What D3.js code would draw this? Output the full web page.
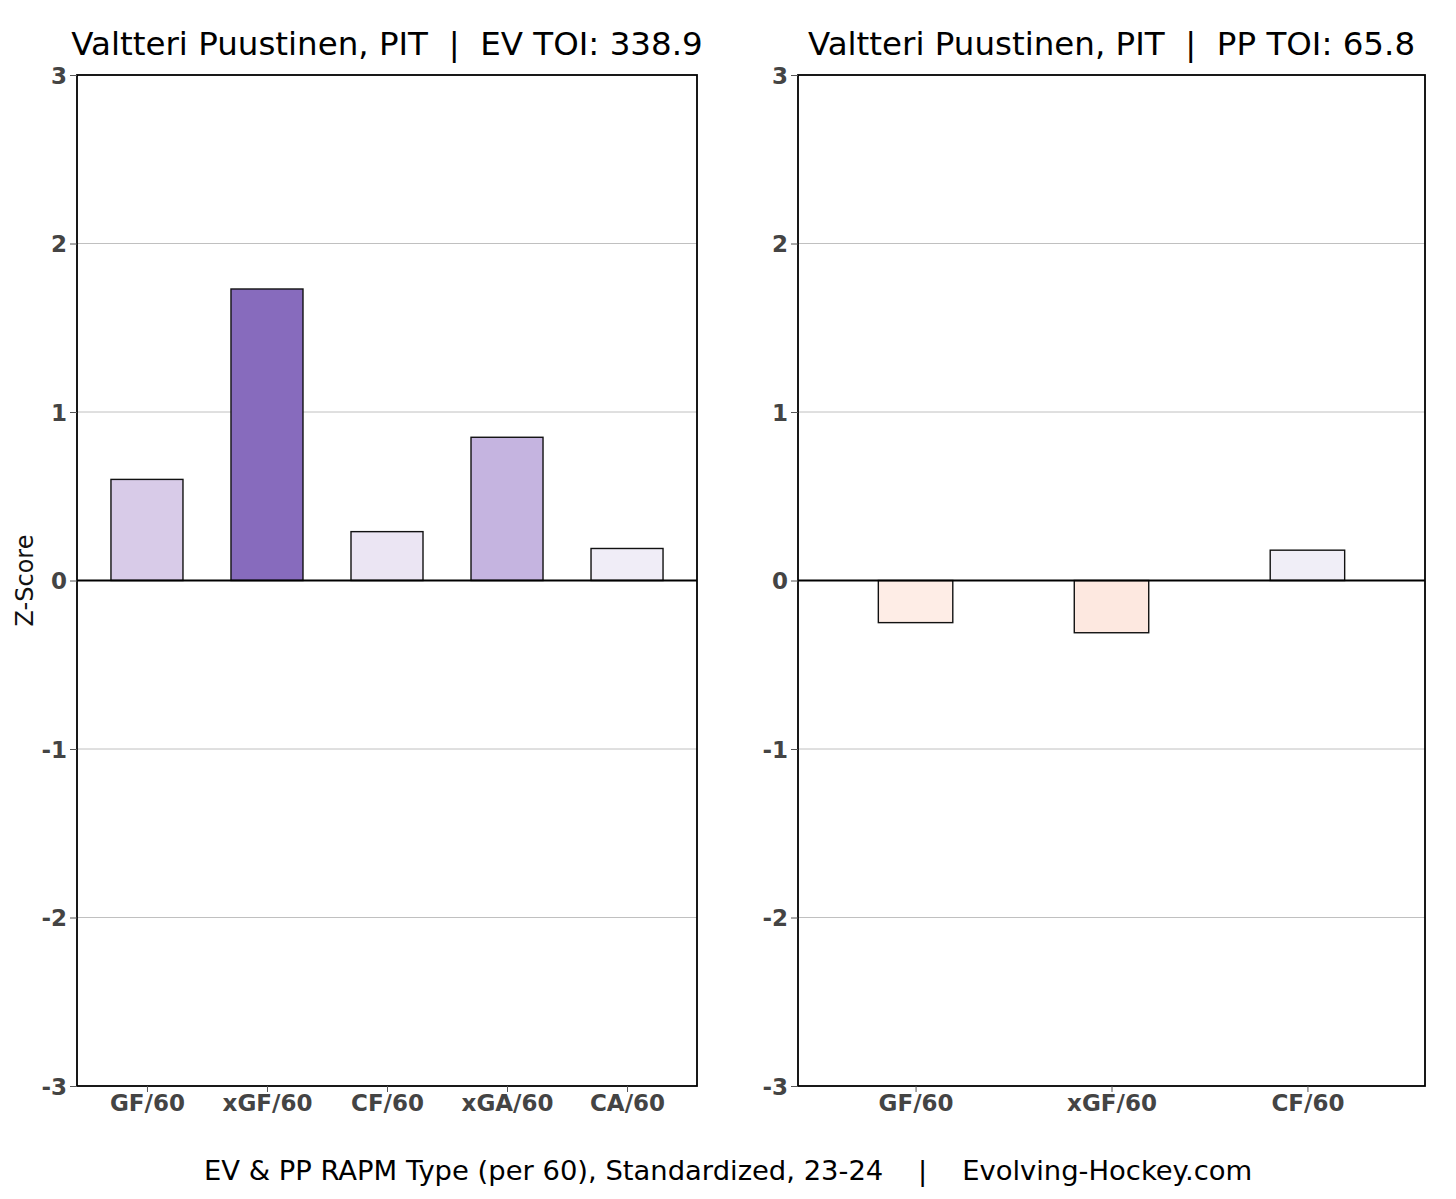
<!DOCTYPE html>
<html><head><meta charset="utf-8">
<script src="https://cdn.jsdelivr.net/npm/d3@7"></script>
<style>body{margin:0;background:#fff;}svg{display:block;font-family:"DejaVu Sans",sans-serif;}</style>
</head><body>
<svg id="c" width="1456" height="1199"></svg>
<script>
const evCategories = ["GF/60","xGF/60","CF/60","xGA/60","CA/60"];
const evValues = [0.60, 1.73, 0.29, 0.85, 0.19];
const evColors = ["#d8cbe8","#876bbd","#ebe5f3","#c5b4e0","#f0edf7"];
const ppCategories = ["GF/60","xGF/60","CF/60"];
const ppValues = [-0.25, -0.31, 0.18];
const ppColors = ["#feede6","#fde8e0","#f0eef7"];
const yTicks = [-3,-2,-1,0,1,2,3];
const titles = ["Valtteri Puustinen, PIT  |  EV TOI: 338.9","Valtteri Puustinen, PIT  |  PP TOI: 65.8"];
const footer = "EV & PP RAPM Type (per 60), Standardized, 23-24    |    Evolving-Hockey.com";

const svg = d3.select("#c");
const plotTop = 75, plotBottom = 1086;
const y = d3.scaleLinear().domain([-3,3]).range([plotBottom, plotTop]);

function panel(x0, x1, cats, vals, cols, xdom, bw, title, showYLabel){
  const x = d3.scaleLinear().domain(xdom).range([x0, x1]);
  const g = svg.append("g");
  g.selectAll(".grid").data(yTicks.filter(t=>t!==0 && Math.abs(t)!==3)).enter().append("line")
    .attr("x1",x0).attr("x2",x1).attr("y1",d=>y(d)).attr("y2",d=>y(d))
    .attr("stroke","#b0b0b0").attr("stroke-width",0.8);
  g.selectAll(".bar").data(vals).enter().append("rect")
    .attr("x",(d,i)=>x(i-bw/2)).attr("width",(d,i)=>x(i+bw/2)-x(i-bw/2))
    .attr("y",d=>y(Math.max(d,0))).attr("height",d=>Math.abs(y(d)-y(0)))
    .attr("fill",(d,i)=>cols[i]).attr("stroke","#111").attr("stroke-width",1.4);
  g.append("line").attr("x1",x0).attr("x2",x1).attr("y1",y(0)).attr("y2",y(0))
    .attr("stroke","#000").attr("stroke-width",2);
  g.append("rect").attr("x",x0).attr("y",plotTop).attr("width",x1-x0).attr("height",plotBottom-plotTop)
    .attr("fill","none").attr("stroke","#000").attr("stroke-width",1.8);
  const ya = d3.axisLeft(y).tickValues(yTicks).tickSize(7).tickPadding(3).tickFormat(d=>String(d));
  const yg = g.append("g").attr("transform",`translate(${x0},0)`).call(ya);
  yg.select(".domain").remove();
  yg.selectAll("line").attr("stroke","#555");
  yg.selectAll("text").attr("font-size",23).attr("font-weight","bold").attr("fill","#444")
    .attr("font-family","DejaVu Sans").attr("dy","0.36em");
  const xa = d3.axisBottom(x).tickValues(d3.range(cats.length)).tickFormat(i=>cats[i]).tickSize(6).tickPadding(3);
  const xg = g.append("g").attr("transform",`translate(0,${plotBottom})`).call(xa);
  xg.select(".domain").remove();
  xg.selectAll("line").attr("stroke","#555");
  xg.selectAll("text").attr("font-size",23).attr("font-weight","bold").attr("fill","#444")
    .attr("font-family","DejaVu Sans");
  svg.append("text").attr("x",(x0+x1)/2).attr("y",55).attr("text-anchor","middle")
    .attr("font-size",32.5).attr("fill","#000").style("white-space","pre").text(title);
  if(showYLabel){
    svg.append("text").attr("transform",`translate(33,${y(0)}) rotate(-90)`).attr("text-anchor","middle")
      .attr("font-size",24).attr("fill","#111").text("Z-Score");
  }
}
panel(77, 697, evCategories, evValues, evColors, [-0.583, 4.583], 0.6, titles[0], true);
panel(798, 1425, ppCategories, ppValues, ppColors, [-0.6, 2.6], 0.38, titles[1], false);

svg.append("text").attr("x",728).attr("y",1180).attr("text-anchor","middle")
  .attr("font-size",27.4).attr("fill","#000").style("white-space","pre").text(footer);
</script>
</body></html>
